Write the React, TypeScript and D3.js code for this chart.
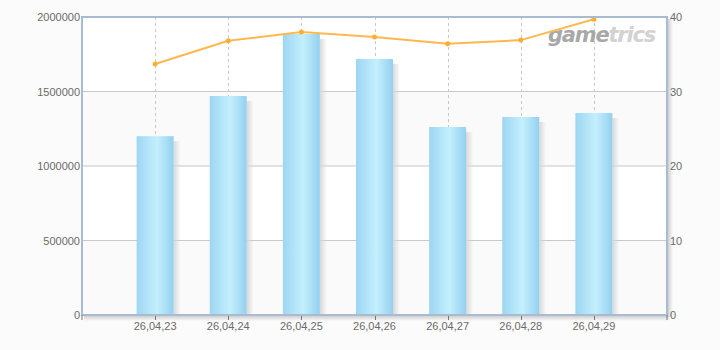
import React from "react";
import * as d3 from "d3";

const categories = ["26,04,23", "26,04,24", "26,04,25", "26,04,26", "26,04,27", "26,04,28", "26,04,29"];
const barValues = [1200000, 1470000, 1886000, 1718000, 1262000, 1329000, 1356000];
const lineValues = [33.7, 36.8, 38.0, 37.3, 36.4, 36.9, 39.7];
const leftTicks = [0, 500000, 1000000, 1500000, 2000000];
const rightTicks = [0, 10, 20, 30, 40];

const W = 720, H = 350;
const L = 82, R = 667, T = 17, B = 315;

export default function App() {
  const x = d3.scaleLinear().domain([0, categories.length + 1]).range([L, R]);
  const yL = d3.scaleLinear().domain([0, 2000000]).range([B, T]);
  const yR = d3.scaleLinear().domain([0, 40]).range([B, T]);
  const bw = 37;
  const line = d3.line<number>().x((_, i) => x(i + 1)).y((d) => yR(d));
  const font = "'Liberation Sans', Arial, sans-serif";
  const wm = "'DejaVu Sans', sans-serif";
  return (
    <svg width={W} height={H} style={{ position: "absolute", left: 0, top: 0, background: "#fbfbfb" }}>
      <defs>
        <linearGradient id="bar" x1="0" x2="1" y1="0" y2="0">
          <stop offset="0" stopColor="#9dd6f2" />
          <stop offset="0.55" stopColor="#c4effd" />
          <stop offset="1" stopColor="#94d0ef" />
        </linearGradient>
        <linearGradient id="shadow" x1="0" x2="1" y1="0" y2="0">
          <stop offset="0" stopColor="#d8d8d8" />
          <stop offset="1" stopColor="#d8d8d8" stopOpacity="0" />
        </linearGradient>
        <linearGradient id="vshadow" x1="0" x2="0" y1="0" y2="1">
          <stop offset="0" stopColor="#d0d0d0" />
          <stop offset="1" stopColor="#d0d0d0" stopOpacity="0" />
        </linearGradient>
        <linearGradient id="hshadow" x1="0" x2="1" y1="0" y2="0">
          <stop offset="0" stopColor="#d0d0d0" />
          <stop offset="1" stopColor="#d0d0d0" stopOpacity="0" />
        </linearGradient>
      </defs>
      <rect x={0} y={0} width={W} height={H} fill="#fbfbfb" />
      {leftTicks.slice(0, -1).map((t, i) => (
        <rect key={t} x={L} y={yL(leftTicks[i + 1])} width={R - L} height={yL(t) - yL(leftTicks[i + 1])}
          fill={i % 2 === 0 ? "#fafafa" : "#ffffff"} />
      ))}
      <rect x={L + 2} y={B + 1} width={R - L} height={5} fill="url(#vshadow)" />
      <rect x={R + 1} y={T + 2} width={5} height={B - T} fill="url(#hshadow)" />
      {leftTicks.slice(1, -1).map((t) => (
        <line key={t} x1={L} x2={R} y1={yL(t)} y2={yL(t)} stroke="#c8c8c8" strokeWidth={1} />
      ))}
      {categories.map((c, i) => (
        <line key={c} x1={Math.round(x(i + 1)) + 0.5} x2={Math.round(x(i + 1)) + 0.5} y1={T} y2={B}
          stroke="#c8c8c8" strokeDasharray="3,3" strokeWidth={1} />
      ))}
      {barValues.map((v, i) => {
        const cx = x(i + 1);
        return (
          <g key={i}>
            <rect x={cx + bw / 2} y={yL(v) + 5} width={7} height={B - yL(v) - 5} fill="url(#shadow)" />
            <rect x={cx - bw / 2} y={yL(v)} width={bw} height={B - yL(v)} fill="url(#bar)" />
          </g>
        );
      })}
      <text x={548} y={42} fontFamily={wm} fontStyle="italic" fontWeight="bold" fontSize={21} letterSpacing={-1.2}>
        <tspan fill="#a8a8a8">game</tspan><tspan fill="#d2d2d2">trics</tspan>
      </text>
      <path d={line(lineValues) || ""} fill="none" stroke="#ffb84d" strokeWidth={2} />
      {lineValues.map((v, i) => (
        <circle key={i} cx={x(i + 1)} cy={yR(v)} r={2.5} fill="#ffae35" />
      ))}
      <rect x={L} y={T} width={R - L} height={B - T} fill="none" stroke="#a9bbd0" strokeWidth={2} />
      {categories.map((c, i) => (
        <g key={c}>
          <line x1={Math.round(x(i + 1)) + 0.5} x2={Math.round(x(i + 1)) + 0.5} y1={B + 1} y2={B + 5} stroke="#777" />
          <text x={x(i + 1)} y={330} textAnchor="middle" fontFamily={font} fontSize={11} fill="#6a6a6a">{c}</text>
        </g>
      ))}
      <line x1={L} x2={L} y1={B} y2={B + 5} stroke="#777" />
      <line x1={R} x2={R} y1={B} y2={B + 5} stroke="#777" />
      {leftTicks.map((t) => (
        <text key={t} x={L - 2} y={yL(t) + 4} textAnchor="end" fontFamily={font} fontSize={11} fill="#6a6a6a">{t}</text>
      ))}
      {rightTicks.map((t) => (
        <text key={t} x={R + 3} y={yR(t) + 4} textAnchor="start" fontFamily={font} fontSize={11} fill="#6a6a6a">{t}</text>
      ))}
    </svg>
  );
}
